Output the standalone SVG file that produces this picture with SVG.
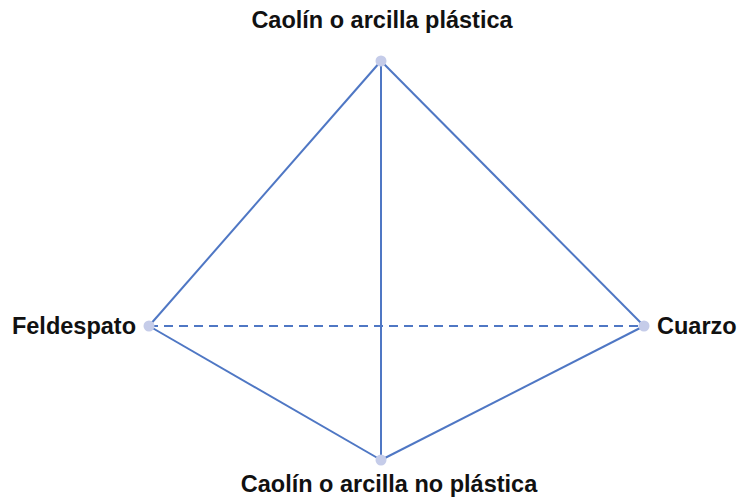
<svg xmlns="http://www.w3.org/2000/svg" width="741" height="497" viewBox="0 0 741 497">
<style>
.e{stroke:#4f77c4;stroke-width:2;fill:none}
.d{stroke-dasharray:9,6}
.n{fill:#c5cce9}
text{font-family:"Liberation Sans",Arial,sans-serif;font-weight:bold;font-size:23.5px;fill:#111}
</style>
<rect width="741" height="497" fill="#fff"/>
<g id="connectors">
<line class="e" x1="381" y1="61" x2="149" y2="326"/>
<line class="e" x1="381" y1="61" x2="644" y2="326"/>
<line class="e" x1="381" y1="61" x2="381" y2="460"/>
<line class="e" x1="149" y1="326" x2="381" y2="460"/>
<line class="e" x1="644" y1="326" x2="381" y2="460"/>
<line class="e d" x1="149" y1="326" x2="644" y2="326"/>
</g>
<g id="top"><circle class="n" cx="381" cy="61" r="5.5"/><text x="382" y="28" text-anchor="middle">Caolín o arcilla plástica</text></g>
<g id="left"><circle class="n" cx="149" cy="326" r="5.5"/><text x="136" y="334" text-anchor="end">Feldespato</text></g>
<g id="right"><circle class="n" cx="644" cy="326" r="5.5"/><text x="657" y="334">Cuarzo</text></g>
<g id="bottom"><circle class="n" cx="381" cy="460" r="5.5"/><text x="389" y="492" text-anchor="middle">Caolín o arcilla no plástica</text></g>
</svg>
